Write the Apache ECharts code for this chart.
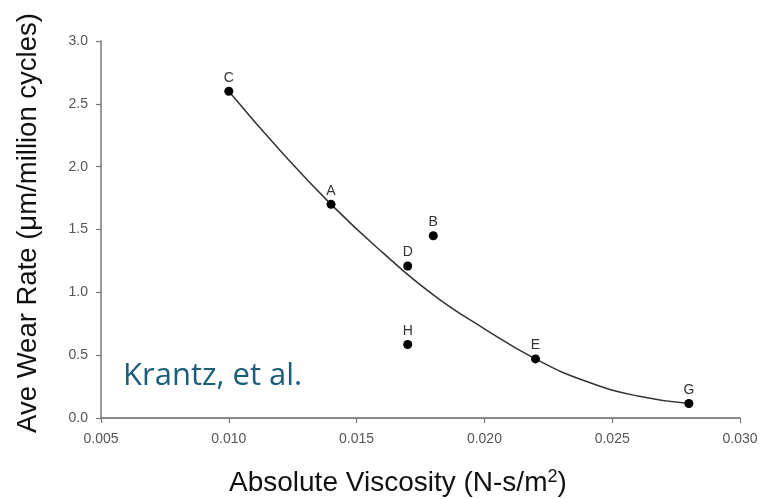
<!DOCTYPE html>
<html>
<head>
<meta charset="utf-8">
<script src="https://cdn.jsdelivr.net/npm/echarts@6/dist/echarts.min.js"></script>
<style>html,body{margin:0;padding:0;background:#fff}#c{width:765px;height:499px}</style>
</head>
<body>
<div id="c"></div>
<script>
// Measured points (viscosity N-s/m^2, wear rate um/million cycles)
const pointNames = ['C', 'A', 'D', 'B', 'H', 'E', 'G'];
const pointX = [0.010, 0.014, 0.017, 0.018, 0.017, 0.022, 0.028];
const pointY = [2.60, 1.70, 1.21, 1.45, 0.585, 0.47, 0.115];
// Fitted curve
const curveX = [0.010, 0.012, 0.014, 0.016, 0.018, 0.020, 0.022, 0.024, 0.026, 0.028];
const curveY = [2.60, 2.13, 1.70, 1.32, 0.98, 0.71, 0.47, 0.29, 0.175, 0.115];
const xTicks = ['0.005', '0.010', '0.015', '0.020', '0.025', '0.030'];
const yTicks = ['0.0', '0.5', '1.0', '1.5', '2.0', '2.5', '3.0'];

const chart = echarts.init(document.getElementById('c'), null, {renderer: 'canvas'});
const tickFont = {color: '#555', fontSize: 14, fontFamily: 'Liberation Sans, Arial, sans-serif'};
chart.setOption({
  animation: false,
  backgroundColor: '#fff',
  grid: {left: 101, right: 25, top: 41, bottom: 81, containLabel: false},
  xAxis: {
    type: 'value', min: 0.005, max: 0.030, interval: 0.005,
    axisLine: {show: true, onZero: false, lineStyle: {color: '#666', width: 1.5}},
    axisTick: {show: true, length: 5, lineStyle: {color: '#777', width: 1.2}},
    axisLabel: Object.assign({margin: 14, formatter: v => xTicks[Math.round((v - 0.005) / 0.005)]}, tickFont),
    splitLine: {show: false}
  },
  yAxis: {
    type: 'value', min: 0, max: 3, interval: 0.5,
    axisLine: {show: true, lineStyle: {color: '#777', width: 1.5}},
    axisTick: {show: true, length: 5, lineStyle: {color: '#777', width: 1.2}},
    axisLabel: Object.assign({margin: 13, formatter: v => yTicks[Math.round(v / 0.5)]}, tickFont),
    splitLine: {show: false}
  },
  series: [
    {
      type: 'line', smooth: true, symbol: 'none',
      data: curveX.map((x, i) => [x, curveY[i]]),
      lineStyle: {color: '#333', width: 1.5}, z: 2
    },
    {
      type: 'scatter', symbol: 'circle', symbolSize: 9,
      data: pointX.map((x, i) => [x, pointY[i], pointNames[i]]),
      itemStyle: {color: '#000', opacity: 1},
      label: {
        show: true, position: 'top', distance: 2,
        formatter: p => p.data[2],
        color: '#333', fontSize: 14, fontFamily: 'Liberation Sans, Arial, sans-serif'
      },
      z: 3
    }
  ],
  graphic: [
    {
      type: 'text', left: 229, top: 468,
      style: {
        rich: {
          a: {fontSize: 28, fontFamily: 'Liberation Sans, Arial, sans-serif', fill: '#111'},
          s: {fontSize: 18, fontFamily: 'Liberation Sans, Arial, sans-serif', fill: '#111', verticalAlign: 'top', padding: [0, 0, 12, 0]}
        },
        text: '{a|Absolute Viscosity (N-s/m}{s|2}{a|)}'
      }
    },
    {
      type: 'text', x: 28, y: 223, rotation: Math.PI / 2,
      style: {
        text: 'Ave Wear Rate (\u03bcm/million cycles)',
        fontSize: 27.5, fontFamily: 'Liberation Sans, Arial, sans-serif', fill: '#111',
        align: 'center', verticalAlign: 'middle'
      }
    },
    {
      type: 'text', left: 123, top: 361,
      style: {
        text: 'Krantz, et al.',
        fontSize: 31, fontFamily: 'Open Sans, sans-serif', fill: '#1b5e7c'
      }
    }
  ]
});
</script>
</body>
</html>
